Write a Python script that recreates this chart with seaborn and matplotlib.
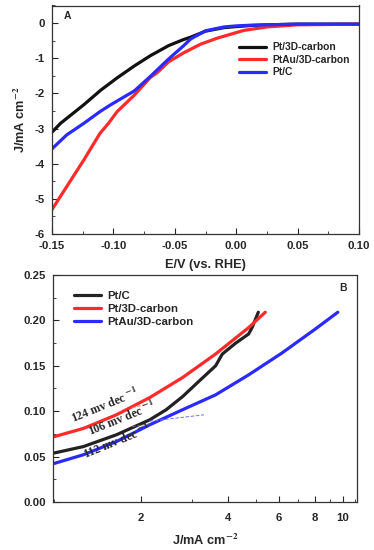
import numpy as np
import pandas as pd
import seaborn as sns
import matplotlib.pyplot as plt
from matplotlib.ticker import MultipleLocator, FixedLocator, NullFormatter

# panel A: polarization curves (E vs. RHE, J in mA cm-2)
e_pt3d = [-0.151, -0.143, -0.124, -0.110, -0.097, -0.083, -0.070, -0.055, -0.043, -0.037, -0.025, -0.010, 0.0, 0.012, 0.025, 0.05, 0.10]
j_pt3d = [-3.14, -2.85, -2.32, -1.90, -1.56, -1.22, -0.93, -0.64, -0.47, -0.40, -0.23, -0.13, -0.10, -0.07, -0.05, -0.03, -0.03]
e_ptau3d = [-0.151, -0.138, -0.124, -0.111, -0.104, -0.097, -0.083, -0.070, -0.064, -0.055, -0.043, -0.029, -0.0155, 0.006, 0.025, 0.05, 0.10]
j_ptau3d = [-5.36, -4.65, -3.89, -3.14, -2.85, -2.52, -2.05, -1.55, -1.40, -1.10, -0.85, -0.60, -0.43, -0.21, -0.11, -0.05, -0.03]
e_ptc = [-0.151, -0.138, -0.124, -0.111, -0.1025, -0.083, -0.070, -0.055, -0.043, -0.037, -0.025, -0.010, 0.0, 0.012, 0.025, 0.05, 0.10]
j_ptc = [-3.61, -3.18, -2.85, -2.52, -2.33, -1.93, -1.52, -1.02, -0.65, -0.45, -0.22, -0.11, -0.08, -0.06, -0.05, -0.03, -0.03]

# panel B: Tafel plots (J in mA cm-2, overpotential in V)
jb_ptc = [1.0, 1.26, 1.64, 2.14, 2.44, 2.78, 3.17, 3.62, 3.82, 4.25, 4.71, 4.84, 5.09]
eb_ptc = [0.054, 0.061, 0.074, 0.0905, 0.1016, 0.116, 0.133, 0.150, 0.163, 0.175, 0.185, 0.192, 0.209]
jb_pt3d = [1.0, 1.26, 1.64, 2.14, 2.78, 3.62, 4.71, 5.38]
eb_pt3d = [0.072, 0.081, 0.096, 0.115, 0.137, 0.163, 0.192, 0.209]
jb_ptau3d = [1.0, 1.26, 1.64, 2.14, 2.78, 3.62, 4.71, 6.14, 7.98, 9.6]
eb_ptau3d = [0.0425, 0.052, 0.0665, 0.085, 0.1016, 0.118, 0.140, 0.164, 0.190, 0.209]

# short Tafel fit segments
fit_j = [[1.86, 2.05], [1.86, 2.14], [2.14, 3.3]]
fit_e = [[0.104, 0.107], [0.083, 0.086], [0.089, 0.096]]
slopes = ['124', '106', '112']
slope_j = [1.16, 1.33, 1.28]
slope_e = [0.087, 0.073, 0.047]

sns.set_style('ticks')
plt.rcParams['font.family'] = ['Liberation Sans', 'DejaVu Sans']
plt.rcParams['font.weight'] = 'bold'
plt.rcParams['axes.labelweight'] = 'bold'
plt.rcParams['mathtext.fontset'] = 'stix'
plt.rcParams['axes.unicode_minus'] = False

fig = plt.figure(figsize=(3.74, 5.5), dpi=100)
ax1 = fig.add_axes([0.139, 0.5745, 0.821, 0.4155])
ax2 = fig.add_axes([0.142, 0.0873, 0.813, 0.4127])

lw = 2.3
red, blue, black = '#ff2a2a', '#2a2aff', '#111111'
sns.lineplot(x=e_pt3d, y=j_pt3d, ax=ax1, color=black, lw=lw, label='Pt/3D-carbon')
sns.lineplot(x=e_ptau3d, y=j_ptau3d, ax=ax1, color=red, lw=lw, label='PtAu/3D-carbon')
sns.lineplot(x=e_ptc, y=j_ptc, ax=ax1, color=blue, lw=lw, label='Pt/C')
ax1.set_xlim(-0.15, 0.10)
ax1.set_ylim(-6, 0.5)
ax1.xaxis.set_major_locator(MultipleLocator(0.05))
ax1.xaxis.set_minor_locator(MultipleLocator(0.025))
ax1.yaxis.set_major_locator(FixedLocator([-6, -5, -4, -3, -2, -1, 0]))
ax1.yaxis.set_minor_locator(MultipleLocator(0.5))
ax1.xaxis.set_major_formatter(plt.FuncFormatter(lambda v, p: f'{v:.2f}'))
ax1.yaxis.set_major_formatter(plt.FuncFormatter(lambda v, p: f'{v:.0f}'))
ax1.set_xlabel('E/V (vs. RHE)', fontsize=9.2, labelpad=6)
ax1.set_ylabel('J/mA cm$^{\\mathbf{-2}}$', fontsize=9.2, labelpad=5)
ax1.text(0.037, 0.94, 'A', transform=ax1.transAxes, fontsize=7.5, fontweight='bold')
ax1.legend(loc='upper right', bbox_to_anchor=(1.0, 0.88), frameon=False, fontsize=7.4,
           handlelength=2.6, labelspacing=0.25, handletextpad=0.6)

sns.lineplot(x=jb_ptc, y=eb_ptc, ax=ax2, color='#222222', lw=lw, label='Pt/C')
sns.lineplot(x=jb_pt3d, y=eb_pt3d, ax=ax2, color=red, lw=lw, label='Pt/3D-carbon')
sns.lineplot(x=jb_ptau3d, y=eb_ptau3d, ax=ax2, color=blue, lw=lw, label='PtAu/3D-carbon')
for fx, fy, c in zip(fit_j, fit_e, ['#ff7070', '#666666', '#7070ff']):
    ax2.plot(fx, fy, ls='--', lw=0.7, color=c)
ax2.set_xscale('log')
ax2.set_xlim(0.99, 11.2)
ax2.set_ylim(0, 0.25)
ax2.xaxis.set_major_locator(FixedLocator([2, 4, 6, 8, 10]))
ax2.xaxis.set_major_formatter(plt.FuncFormatter(lambda v, p: f'{v:.0f}'))
ax2.xaxis.set_minor_locator(FixedLocator([1, 3, 5, 7, 9, 11]))
ax2.xaxis.set_minor_formatter(NullFormatter())
ax2.yaxis.set_major_locator(MultipleLocator(0.05))
ax2.yaxis.set_minor_locator(MultipleLocator(0.025))
ax2.yaxis.set_major_formatter(plt.FuncFormatter(lambda v, p: f'{v:.2f}'))
ax2.set_xlabel('J/mA cm$^{\\mathbf{-2}}$', fontsize=9.2, labelpad=7)
ax2.set_ylabel('')
ax2.text(0.942, 0.93, 'B', transform=ax2.transAxes, fontsize=7.5, fontweight='bold')
ax2.legend(loc='upper left', bbox_to_anchor=(0.035, 0.975), frameon=False, fontsize=8.2,
           handlelength=2.4, labelspacing=0.25, handletextpad=0.5)

for s, tx, ty in zip(slopes, slope_j, slope_e):
    ax2.text(tx, ty, f'{s} mv dec $^{{\\mathbf{{-1}}}}$', rotation=22, rotation_mode='anchor',
             fontsize=8.6, fontweight='bold', family=['Liberation Serif', 'DejaVu Serif'],
             ha='left', va='baseline')

for ax in (ax1, ax2):
    ax.tick_params(which='both', direction='in', top=False, right=False, labelsize=8.2, pad=5)
    ax.tick_params(which='major', length=4, width=0.8)
    ax.tick_params(which='minor', length=2, width=0.6)
    for sp in ax.spines.values():
        sp.set_visible(True)
        sp.set_linewidth(0.9)
        sp.set_color('#333333')
    for lab in ax.get_xticklabels() + ax.get_yticklabels():
        lab.set_fontweight('bold')
ax2.tick_params(axis='x', which='major', pad=8)

fig.savefig('out.png', dpi=100)
